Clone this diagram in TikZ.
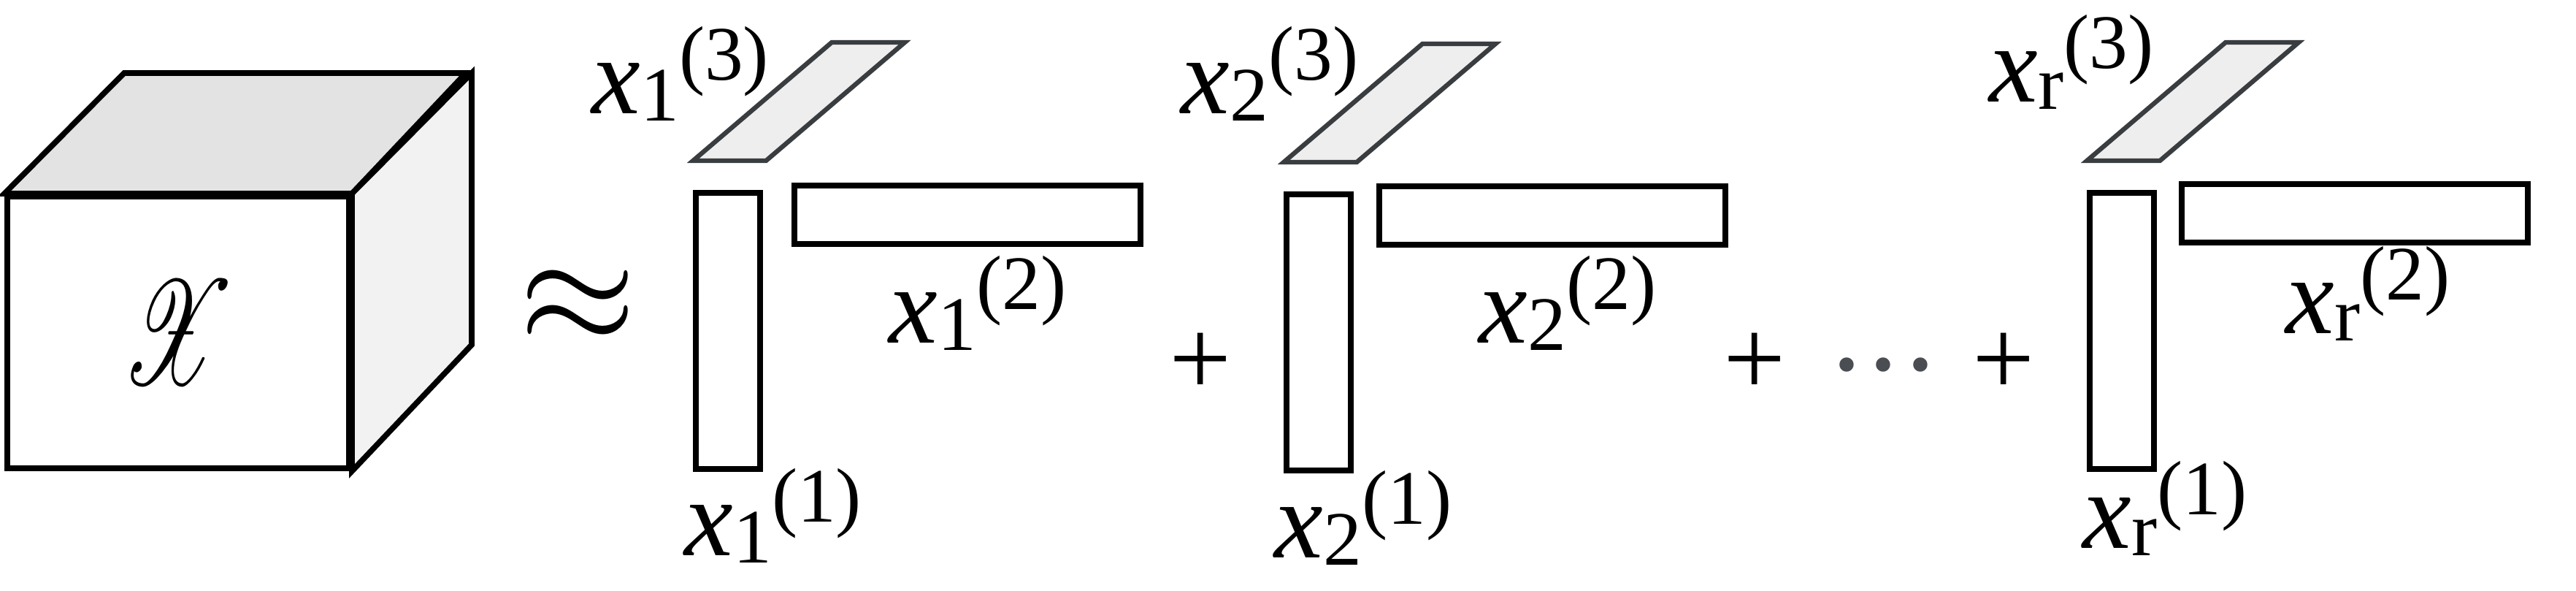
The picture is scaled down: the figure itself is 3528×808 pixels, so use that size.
\documentclass[tikz,border=0pt]{standalone}
\usepackage{fontspec}
\setmainfont{Liberation Serif}
\usepackage{mathrsfs}
\usepackage{graphicx}
\usepackage{xcolor}
\usepackage{tikz}
\usetikzlibrary{positioning, calc}

\definecolor{slabline}{RGB}{58,61,64}
\definecolor{slabfill}{RGB}{238,238,238}
\definecolor{topface}{RGB}{227,227,227}
\definecolor{sideface}{RGB}{242,242,242}
\definecolor{dotgray}{RGB}{74,77,82}

% factor label x_i^{(n)}: subscript and superscript set one after the other
\newcommand{\factorlabel}[2]{\textit{x}\raisebox{-0.07em}{\fontsize{30}{30}\selectfont #1}\raisebox{0.3em}{\fontsize{30}{30}\selectfont (#2)}}

\begin{document}
\begin{tikzpicture}[
    x=0.01cm, y=0.01cm,
    edge/.style={line width=2.2pt, line join=miter},
    cubeface/.style={draw, edge, fill=white, minimum width=4.68cm, minimum height=3.72cm, inner sep=0pt},
    vbar/.style={draw, edge, fill=white, minimum width=0.88cm, minimum height=3.78cm, inner sep=0pt},
    hbar/.style={draw, edge, fill=white, minimum width=4.74cm, minimum height=0.80cm, inner sep=0pt},
    slab/.style={draw=slabline, fill=slabfill, line width=1.8pt, line join=miter},
    factor/.style={anchor=base west, inner sep=0pt, font=\fontsize{42.7}{46}\selectfont},
    sign/.style={inner sep=0pt, font=\fontsize{43}{46}\selectfont}
]
    \useasboundingbox (0,0) rectangle (3528,808);

    % The tensor as a cube.
    \node[cubeface] (cube) at (244,353) {\resizebox*{1.55cm}{1.42cm}{$\mathscr{X}$}};
    \draw[edge, fill=topface] (cube.north west) -- ++(164,165) -- ++(468,0) -- (cube.north east) -- cycle;
    \draw[edge, fill=sideface] (cube.north east) -- ++(164,165) -- ++(0,-372) -- (cube.south east) -- cycle;

    \node[inner sep=0pt] (approx) at (792,388) {\resizebox{1.6cm}{!}{$\approx$}};

    % First rank-one term.
    \node[vbar] (v1) at (997,355) {};
    \node[hbar] (h1) at (1325,514) {};
    \draw[slab] ($(v1.north west)+(0,40)$) -- ++(100,0) -- ++(190,162) -- ++(-100,0) -- cycle;
    \node[factor] (l13) at (810,653) {\factorlabel{1}{3}};
    \node[factor] (l12) at (1217,339) {\factorlabel{1}{2}};
    \node[factor] (l11) at (937,48) {\factorlabel{1}{1}};

    \node[sign] (plus1) at (1644,309) {+};

    % Second rank-one term.
    \node[vbar] (v2) at (1806,353) {};
    \node[hbar] (h2) at (2126,513) {};
    \draw[slab] ($(v2.north west)+(0,40)$) -- ++(100,0) -- ++(190,162) -- ++(-100,0) -- cycle;
    \node[factor] (l23) at (1617,653) {\factorlabel{2}{3}};
    \node[factor] (l22) at (2025,339) {\factorlabel{2}{2}};
    \node[factor] (l21) at (1745,45) {\factorlabel{2}{1}};

    \node[sign] (plus2) at (2403,309) {+};
    \node[inner sep=0pt, text=dotgray, font=\fontsize{34}{36}\selectfont\bfseries] (dots) at (2580,309) {.\hspace{0.17em}.\hspace{0.17em}.};
    \node[sign] (plus3) at (2744,309) {+};

    % Last rank-one term.
    \node[vbar] (vr) at (2906,355) {};
    \node[hbar] (hr) at (3225,516) {};
    \draw[slab] ($(vr.north west)+(0,40)$) -- ++(100,0) -- ++(190,162) -- ++(-100,0) -- cycle;
    \node[factor] (lr3) at (2724,669) {\factorlabel{r}{3}};
    \node[factor] (lr2) at (3130,352) {\factorlabel{r}{2}};
    \node[factor] (lr1) at (2852,58) {\factorlabel{r}{1}};

\end{tikzpicture}
\end{document}
